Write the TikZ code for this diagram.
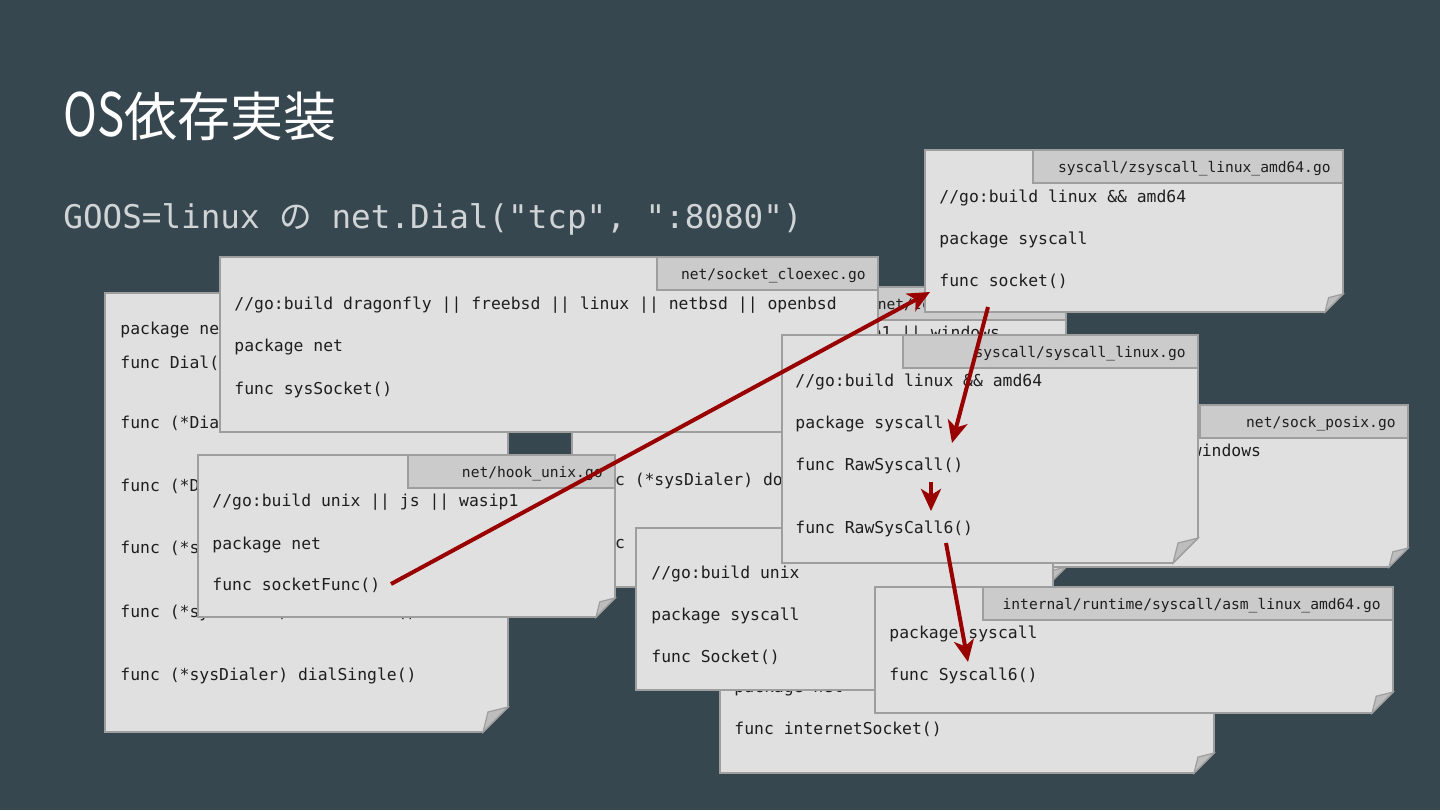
\documentclass[tikz,border=0pt]{standalone}
\usepackage{fontspec}
\usetikzlibrary{arrows.meta}
\setmonofont{DejaVu Sans Mono}
\newfontfamily\cjkfont{Noto Sans CJK JP}
\definecolor{bg}{HTML}{37474F}
\definecolor{cardfill}{HTML}{E0E0E0}
\definecolor{cardline}{HTML}{9E9E9E}
\definecolor{tabfill}{HTML}{CBCBCB}
\definecolor{foldfill}{HTML}{BDBDBD}
\definecolor{arrowred}{HTML}{990000}
\definecolor{subgray}{HTML}{D0D4D6}
\definecolor{codeink}{HTML}{1E1E1E}
\newcommand\codefs{\fontsize{8.2}{10}\selectfont}
\newcommand\tabfs{\fontsize{7.3}{9}\selectfont}
\tikzset{
  cardbody/.style={fill=cardfill, draw=cardline, line width=0.8pt},
  foldflap/.style={fill=foldfill, draw=cardline, line width=0.6pt},
  tabbox/.style={fill=tabfill, draw=cardline, line width=0.8pt},
  tabtext/.style={anchor=base east, inner sep=0pt, font=\ttfamily\tabfs, text=codeink},
  code/.style={anchor=base west, inner sep=0pt, font=\ttfamily\codefs, text=codeink},
  flow/.style={draw=arrowred, line width=2pt, -{Stealth[length=11pt, width=10pt, inset=3pt]}},
}
% \gcard{x1}{y1}{x2}{y2}{fold}
\newcommand\gcard[5]{%
  \filldraw[cardbody] (#1,#2) -- (#3,#2) -- (#3,#4-#5) -- (#3-#5,#4) -- (#1,#4) -- cycle;
  \filldraw[foldflap] (#3,#4-#5) -- (#3-#5,#4) -- (#3-0.8*#5,#4-0.8*#5) -- cycle;}
% \gtab{x1}{y1}{x2}{name}{text}
\newcommand\gtab[5]{%
  \filldraw[tabbox] (#1,#2) rectangle (#3,#2+33);
  \node[tabtext] (#4) at (#3-12,#2+22) {#5};}
\begin{document}
\begin{tikzpicture}[x=0.5pt, y=-0.5pt]
\fill[bg] (0,0) rectangle (1440,810);
\useasboundingbox (0,0) rectangle (1440,810);

% title and subtitle
\node[anchor=base west, inner sep=0pt, text=white, font=\cjkfont\fontsize{26.5}{30}\selectfont] (title) at (63,136) {\scalebox{0.86}[1.13]{OS}依存実装};
\node[anchor=base west, inner sep=0pt, text=subgray, font=\ttfamily\fontsize{16.3}{20}\selectfont] (subtitle) at (63,228) {GOOS=linux {\cjkfont の} net.Dial("tcp", ":8080")};

% A: net/dial.go
\gcard{105}{293}{508}{732}{25}
\node[code] (a1) at (120,334) {package net};
\node[code] (a2) at (120,368) {func Dial()};
\node[code] (a3) at (120,428) {func (*Dialer) Dial()};
\node[code] (a4) at (120,491) {func (*Dialer) DialContext()};
\node[code] (a5) at (120,553) {func (*s};
\node[code] (a6) at (120,617) {func (*sysDialer) dialSerial()};
\node[code] (a7) at (120,680) {func (*sysDialer) dialSingle()};

% C: net/tcpsock_posix.go
\gcard{572}{287}{1066}{587}{20}
\gtab{850}{287}{1066}{ctab}{net/tcpsock\_posix.go}
\node[code] (c1) at (585,338) {//go:build unix || js || wasip1 || windows};
\node[code] (c4) at (614.6,485) {c (*sysDialer) do};
\node[code] (c5) at (585,548) {func (*sysDialer) doDialTCPProto()};

% D: net/sock_posix.go
\gcard{833}{405}{1408}{567}{19}
\gtab{1200}{405}{1408}{dtab}{net/sock\_posix.go}
\node[code] (d1) at (846,456) {//go:build unix || js || wasip1 || windows};

% E: net/ipsock_posix.go
\gcard{720}{600}{1214}{773}{20}
\node[code] (e2) at (734,692) {package net};
\node[code] (e3) at (734,734) {func internetSocket()};

% F: net/socket_cloexec.go
\gcard{220}{257}{878}{432}{20}
\gtab{657}{257}{878}{ftab}{net/socket\_cloexec.go}
\node[code] (f1) at (234,309) {//go:build dragonfly || freebsd || linux || netbsd || openbsd};
\node[code] (f2) at (234,351) {package net};
\node[code] (f3) at (234,394) {func sysSocket()};

% G: net/hook_unix.go
\gcard{198}{455}{615}{617}{19}
\gtab{408}{455}{615}{gtab}{net/hook\_unix.go}
\node[code] (g1) at (212,506) {//go:build unix || js || wasip1};
\node[code] (g2) at (212,549) {package net};
\node[code] (g3) at (212,590) {func socketFunc()};

% H: syscall/zsyscall_linux_amd64.go
\gcard{925}{150}{1343}{312}{18}
\gtab{1033}{150}{1343}{htab}{syscall/zsyscall\_linux\_amd64.go}
\node[code] (h1) at (939,202) {//go:build linux \&\& amd64};
\node[code] (h2) at (939,244) {package syscall};
\node[code] (h3) at (939,286) {func socket()};

% J: syscall (unix)
\gcard{636}{528}{1053}{690}{19}
\node[code] (j1) at (651,578) {//go:build unix};
\node[code] (j2) at (651,620) {package syscall};
\node[code] (j3) at (651,662) {func Socket()};

% I: syscall/syscall_linux.go
\gcard{782}{335}{1198}{563}{25}
\gtab{903}{335}{1198}{itab}{syscall/syscall\_linux.go}
\node[code] (i1) at (795,386) {//go:build linux \&\& amd64};
\node[code] (i2) at (795,428) {package syscall};
\node[code] (i3) at (795,470) {func RawSyscall()};
\node[code] (i4) at (795,533) {func RawSysCall6()};

% K: internal/runtime/syscall/asm_linux_amd64.go
\gcard{875}{587}{1393}{713}{21}
\gtab{983}{587}{1393}{ktab}{internal/runtime/syscall/asm\_linux\_amd64.go}
\node[code] (k1) at (889,638) {package syscall};
\node[code] (k2) at (889,680) {func Syscall6()};

% arrows
\coordinate (p1s) at (391,584);
\coordinate (p1e) at (930,292);
\coordinate (p2s) at (988,307);
\coordinate (p2e) at (952,443);
\coordinate (p3s) at (931,482);
\coordinate (p3e) at (931,511);
\coordinate (p4s) at (946,543);
\coordinate (p4e) at (968,662);
\draw[flow] (p1s) -- (p1e);
\draw[flow] (p2s) -- (p2e);
\draw[flow] (p3s) -- (p3e);
\draw[flow] (p4s) -- (p4e);
\end{tikzpicture}
\end{document}
